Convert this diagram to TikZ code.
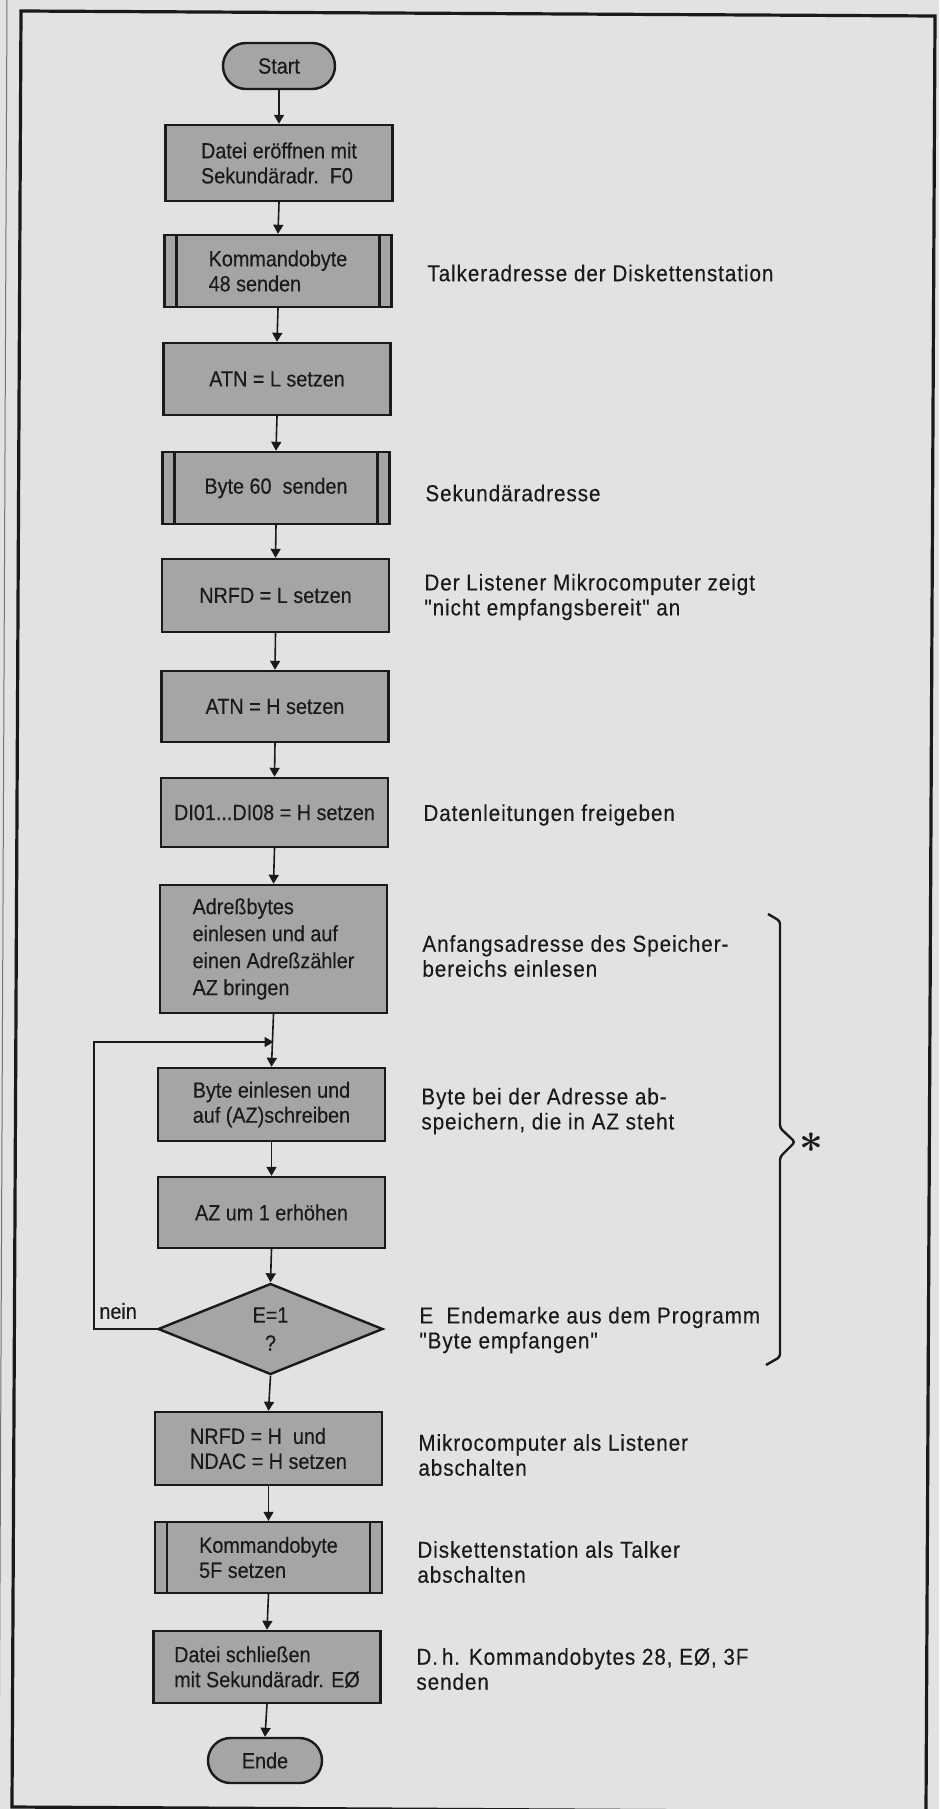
\documentclass[tikz,border=0pt]{standalone}
\usepackage{fontspec}
\setmainfont{Liberation Sans}
\newfontfamily\boxfont[FakeStretch=0.9,FakeBold=0.25]{Liberation Sans}
\newfontfamily\notefont[FakeStretch=0.9,LetterSpace=4,FakeBold=0.25]{Liberation Sans}
\usetikzlibrary{shapes.geometric,shapes.misc,arrows.meta}
\definecolor{paper}{HTML}{E2E2E0}
\definecolor{boxgray}{HTML}{A5A5A5}
\definecolor{ink}{HTML}{1A1A1A}
\begin{document}
\begin{tikzpicture}[x=0.5pt,y=-0.5pt,
  proc/.style={draw=ink, line width=1.2pt, fill=boxgray, text=ink,
    minimum width=113.5pt, minimum height=36pt, inner sep=0pt,
    font=\boxfont\fontsize{11}{12.5}\selectfont, align=left},
  sub/.style={proc, path picture={
    \draw[ink,line width=1.2pt] ([xshift=6pt]path picture bounding box.north west) -- ([xshift=6pt]path picture bounding box.south west);
    \draw[ink,line width=1.2pt] ([xshift=-6pt]path picture bounding box.north east) -- ([xshift=-6pt]path picture bounding box.south east);}},
  term/.style={rounded rectangle, draw=ink, line width=1.2pt, fill=boxgray, text=ink,
    minimum width=56pt, minimum height=23pt, inner sep=0pt,
    font=\boxfont\fontsize{11}{12.5}\selectfont},
  dec/.style={diamond, draw=ink, line width=1.2pt, fill=boxgray, text=ink,
    minimum width=112.5pt, minimum height=45.5pt, inner sep=0pt, aspect=2.47,
    font=\boxfont\fontsize{11}{14}\selectfont, align=center},
  note/.style={anchor=west, inner sep=0pt, align=left, text=ink,
    font=\notefont\fontsize{11.5}{12.5}\selectfont},
  arr/.style={draw=ink, line width=0.8pt, -{Triangle[length=4.5pt,width=5pt]}}]

\fill[paper] (0,0) rectangle (939,1809);
\useasboundingbox (0,0) rectangle (939,1809);

% frame
\draw[black!55, line width=0.5pt] (7,0) -- (-1,1809);
\draw[ink, line width=1.6pt] (21,11) -- (935,16) -- (926,1812) -- (12,1807) -- cycle;

% flow nodes
\node[term] (start) at (279,66) {Start};
\node[proc, minimum height=38pt] (b1) at (279,163) {Datei eröffnen mit\\Sekundäradr.\ \ F0};
\node[sub] (b2) at (278,271) {Kommandobyte\\48 senden};
\node[proc] (b3) at (277,379) {ATN = L setzen};
\node[sub] (b4) at (276,488) {Byte 60\ \ senden};
\node[proc, minimum height=36.5pt] (b5) at (275.5,595.5) {NRFD = L setzen};
\node[proc, minimum height=35.5pt] (b6) at (275,706.5) {ATN = H setzen};
\node[proc, minimum height=34.5pt] (b7) at (274.5,812.5) {DI01...DI08 = H setzen};
\node[proc, minimum height=64pt, font=\boxfont\fontsize{11}{13.5}\selectfont] (b8) at (273.5,949) {Adreßbytes\\einlesen und auf\\einen Adreßzähler\\AZ bringen};
\node[proc, minimum height=36.5pt] (b9) at (271.5,1104.5) {Byte einlesen und\\auf (AZ)schreiben};
\node[proc, minimum height=35.5pt] (b10) at (271.5,1212.5) {AZ um 1 erhöhen};
\node[dec] (dia) at (270.5,1329) {E=1\\?};
\node[proc, minimum height=36.5pt] (b11) at (268.5,1448.5) {NRFD = H\ \ und\\NDAC = H setzen};
\node[sub, minimum height=35.5pt] (b12) at (268.5,1557.5) {Kommandobyte\\5F setzen};
\node[proc] (b13) at (267,1667) {Datei schließen\\mit Sekundäradr. EØ};
\node[term, minimum width=57pt, minimum height=22.5pt] (ende) at (265,1760.5) {Ende};

% connectors
\draw[arr] (start.south) -- (b1.north);
\draw[arr] (b1.south) -- (b2.north);
\draw[arr] (b2.south) -- (b3.north);
\draw[arr] (b3.south) -- (b4.north);
\draw[arr] (b4.south) -- (b5.north);
\draw[arr] (b5.south) -- (b6.north);
\draw[arr] (b6.south) -- (b7.north);
\draw[arr] (b7.south) -- (b8.north);
\draw[arr] (b8.south) -- (b9.north);
\draw[arr] (b9.south) -- (b10.north);
\draw[arr] (b10.south) -- (dia.north);
\draw[arr] (dia.south) -- (b11.north);
\draw[arr] (b11.south) -- (b12.north);
\draw[arr] (b12.south) -- (b13.north);
\draw[arr] (b13.south) -- (ende.north);

% loop back
\coordinate (lp) at (94,1042);
\coordinate (lpin) at (b8.south |- lp);
\draw[arr] (dia.west) -- (dia.west -| lp) -- (lp) -- (lpin);
\node[anchor=west, inner sep=0pt, text=ink, font=\boxfont\fontsize{11}{12.5}\selectfont] (nein) at (99,1311) {nein};

% notes
\node[note] (t2) at (427,273) {Talkeradresse der Diskettenstation};
\node[note] (t4) at (425,493) {Sekundäradresse};
\node[note] (t5) at (424,597) {Der Listener Mikrocomputer zeigt\\"nicht empfangsbereit" an};
\node[note] (t7) at (423,815) {Datenleitungen freigeben};
\node[note] (t8) at (422,956) {Anfangsadresse des Speicher-\\bereichs einlesen};
\node[note] (t9) at (421,1111) {Byte bei der Adresse ab-\\speichern, die in AZ steht};
\node[note] (td) at (419,1330) {E\ \ Endemarke aus dem Programm\\"Byte empfangen"};
\node[note] (t11) at (418,1455) {Mikrocomputer als Listener\\abschalten};
\node[note] (t12) at (417,1562) {Diskettenstation als Talker\\abschalten};
\node[note] (t13) at (416,1669) {D.\,h. Kommandobytes 28, EØ, 3F\\senden};

% brace
\draw[ink, line width=1.2pt, rounded corners=1.5pt] (768,914) -- (780,921) -- (780,1128) -- (795,1142) -- (780,1157) -- (780,1357) -- (766,1365);
\node[text=ink, inner sep=0pt, font=\fontsize{20}{20}\selectfont\boldmath] (ast) at (811,1143) {$\ast$};

\end{tikzpicture}
\end{document}
